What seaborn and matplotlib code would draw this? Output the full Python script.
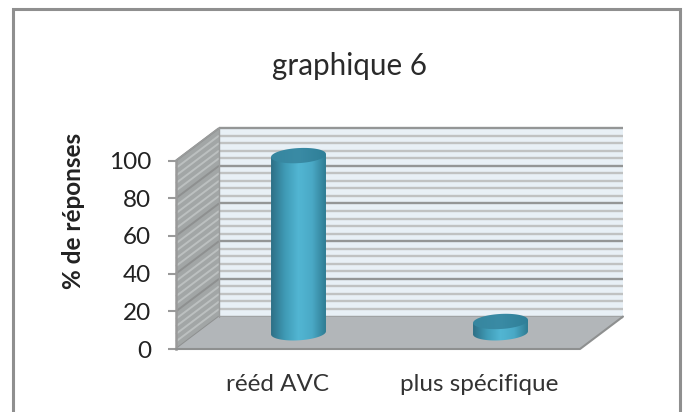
import numpy as np
import pandas as pd
import seaborn as sns
import matplotlib
matplotlib.use("Agg")
import matplotlib.pyplot as plt
from matplotlib.patches import Polygon, Rectangle

# data
categories = ["rééd AVC", "plus spécifique"]
values = [94, 6]
title = "graphique 6"
ylabel = "% de réponses"
yticks = [0, 20, 40, 60, 80, 100]

sns.set_style("white")
plt.rcParams['font.family'] = ['Lato', 'DejaVu Sans']

W, H = 686, 412
fig = plt.figure(figsize=(W / 100, H / 100), dpi=100)
fig.patch.set_facecolor("white")

# outer frame of the chart, runs off the bottom
fig.add_artist(Rectangle((12.5 / W, -0.05), 667 / W, 1.05 - 9 / H, transform=fig.transFigure,
                         fill=False, edgecolor="#8f8f8f", linewidth=2.2))

# axes = front plane of the 3d box
ax = fig.add_axes([176 / W, 1 - 349 / H, 404 / W, 188.5 / H])
df = pd.DataFrame({"cat": categories, "val": values})
sns.barplot(data=df, x="cat", y="val", order=categories, width=0.272, ax=ax, zorder=5)
ax.set_xlim(-0.5, 1.5)
ax.set_ylim(0, 100)

# depth of the box in data units
dx, dy = 0.2129, 17.2
x0, x1 = -0.5, 1.5
draw = dict(clip_on=False)

# back wall, side wall, floor
ax.add_patch(Polygon([(x0 + dx, dy), (x1 + dx, dy), (x1 + dx, 100 + dy), (x0 + dx, 100 + dy)],
                     facecolor="#e8f0f6", edgecolor="none", zorder=1, **draw))
ax.add_patch(Polygon([(x0, 0), (x0 + dx, dy), (x0 + dx, 100 + dy), (x0, 100)],
                     facecolor="#a2a6a6", edgecolor="none", zorder=1, **draw))
for v in np.arange(0, 101, 4):
    major = v % 20 == 0
    ax.plot([x0 + dx, x1 + dx], [v + dy, v + dy], color="#949696" if major else "#c0c2c2",
            lw=1.7, zorder=2, solid_capstyle="butt", **draw)
    ax.plot([x0, x0 + dx], [v, v + dy], color="#8e9090" if major else "#bcc0c0",
            lw=1.4, zorder=2, solid_capstyle="butt", **draw)
ax.add_patch(Polygon([(x0, 0), (x1, 0), (x1 + dx, dy), (x0 + dx, dy)],
                     facecolor="#b2b6b9", edgecolor="none", zorder=3, **draw))
ax.plot([x0, x1, x1 + dx], [0, 0, dy], color="#8e9090", lw=1.5, zorder=4, **draw)
ax.plot([x0 + dx, x0 + dx], [dy, 100 + dy], color="#9a9c9c", lw=1, zorder=4, **draw)
ax.plot([x0, x0 + dx], [100, 100 + dy], color="#9a9c9c", lw=1, zorder=4, **draw)

# cylinders built on the seaborn bars
body_cmap = sns.blend_palette(["#2d6f86", "#3f9ab5", "#52b6d3", "#4aa9c6", "#2f7c93"], as_cmap=True)
top_cmap = sns.blend_palette(["#36869f", "#3a8ba5", "#2f7f98"], as_cmap=True)
grad = np.linspace(0, 1, 128).reshape(1, -1)
tilt = 0.8
b = 4.0


def ellipse(cx, cy, a, start=0.0, stop=2 * np.pi):
    t = np.linspace(start, stop, 90)
    return np.column_stack([cx + a * np.cos(t), cy + b * np.sin(t) + tilt * np.cos(t)])


for bar in list(ax.patches):
    if not isinstance(bar, Rectangle) or bar.get_height() not in values:
        continue
    a = bar.get_width() / 2
    cx = bar.get_x() + a + dx / 2
    base = dy / 2
    top = base + bar.get_height()
    bar.set_visible(False)
    outline = np.vstack([ellipse(cx, base, a, np.pi, 2 * np.pi),
                         [(cx + a, top + tilt), (cx - a, top - tilt)]])
    shape = Polygon(outline, transform=ax.transData, facecolor="none", edgecolor="none")
    ax.add_patch(shape)
    im = ax.imshow(grad, extent=[cx - a, cx + a, base - 8, top + 8], cmap=body_cmap,
                   aspect="auto", zorder=6, interpolation="bilinear")
    im.set_clip_box(fig.bbox)
    im.set_clip_path(shape)
    cap = Polygon(ellipse(cx, top, a), transform=ax.transData, facecolor="none", edgecolor="none")
    ax.add_patch(cap)
    im2 = ax.imshow(grad, extent=[cx - a, cx + a, top - 8, top + 8], cmap=top_cmap,
                    aspect="auto", zorder=7, interpolation="bilinear")
    im2.set_clip_box(fig.bbox)
    im2.set_clip_path(cap)

ax.set_xlim(-0.5, 1.5)
ax.set_ylim(0, 100)

# axes and text
sns.despine(ax=ax, left=False, bottom=True, right=True, top=True)
ax.spines["left"].set_color("#9a9a9a")
ax.spines["left"].set_linewidth(1.8)
ax.set_yticks(yticks)
ax.tick_params(axis="y", which="major", length=6, width=1.5, color="#9a9a9a", labelsize=17.5,
               labelcolor="#222222", pad=12, left=True)
ax.tick_params(axis="x", length=0, labelsize=17.5, labelcolor="#333333", pad=18)
ax.set_xlabel("")
ax.set_ylabel(ylabel, fontsize=17.5, fontweight="bold", color="#222222")
ax.yaxis.set_label_coords(-0.225, 0.73, transform=ax.transAxes)
ax.patch.set_visible(False)
fig.text(350 / W, 1 - 66 / H, title, ha="center", va="center", fontsize=21.3, color="#2a2a2a")

fig.savefig("out.png", dpi=100)
